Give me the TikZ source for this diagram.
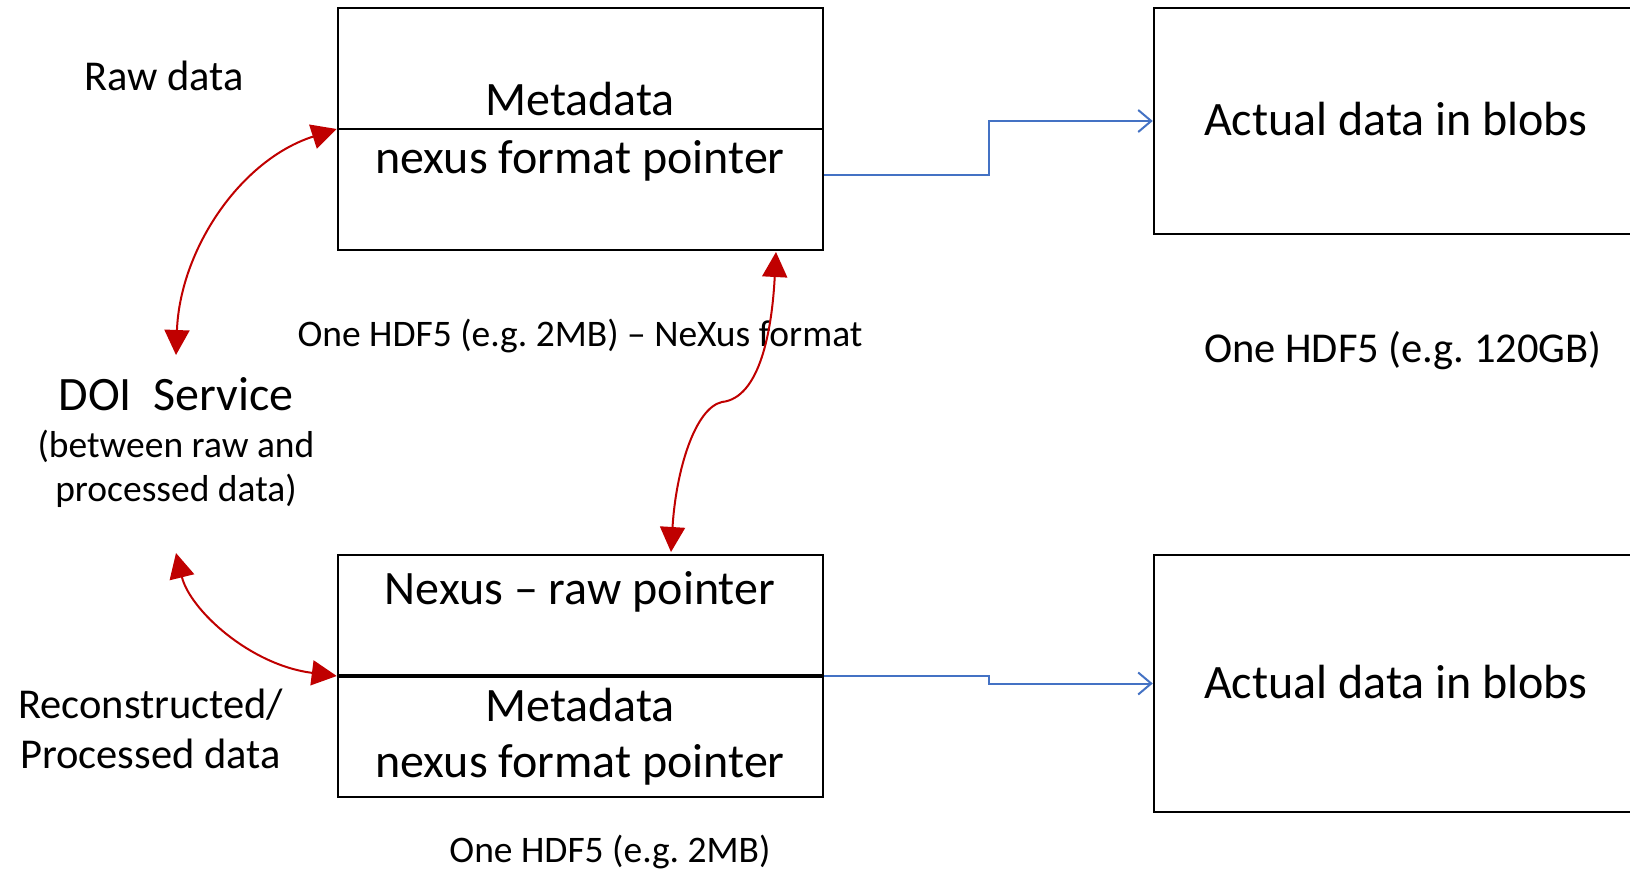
\documentclass[tikz,border=0pt]{standalone}
\usepackage{fontspec}
\setmainfont{Carlito}
\usetikzlibrary{arrows.meta,calc}
\frenchspacing

\definecolor{linkred}{RGB}{192,0,0}
\definecolor{linkblue}{RGB}{68,114,196}

\tikzset{
  filebox/.style={draw=black, line width=2.5pt, minimum width=485pt, inner sep=0pt},
  big/.style={font=\fontsize{48}{56}\selectfont, inner sep=0pt, anchor=base},
  mid/.style={font=\fontsize{42.5}{50}\selectfont, inner sep=0pt, anchor=base},
  small/.style={font=\fontsize{37.5}{44}\selectfont, inner sep=0pt, anchor=base},
  doilink/.style={draw=linkred, line width=2pt,
    {Triangle[length=25pt,width=25pt]}-{Triangle[length=25pt,width=25pt]}},
  bloblink/.style={draw=linkblue, line width=2pt,
    -{Straight Barb[length=13pt,width=22pt,line width=2pt]}},
}

\begin{document}
\begin{tikzpicture}[x=1pt,y=-1pt]
\clip (0,0) rectangle (1630,869);
\fill[white] (0,0) rectangle (1630,869);

% HDF5 files: raw file (top) and processed file (bottom)
\node[filebox, minimum height=242pt] (raw)  at (580.5,129) {};
\node[filebox, minimum height=242pt] (proc) at (580.5,676) {};
\draw[line width=2.5pt] (raw.west) -- (raw.east);
\draw[line width=3.5pt] (proc.west) -- (proc.east);

% large data files on the right
\node[filebox, minimum height=226pt] (blobA) at (1396.5,121) {};
\node[filebox, minimum height=257pt] (blobB) at (1396.5,683.5) {};

% texts inside the boxes
\node[big] (rawmeta) at (580,116) {Metadata};
\node[big] (rawptr)  at (580,174) {nexus format pointer};
\node[big] (procraw) at (580,604) {Nexus – raw pointer};
\node[big] (procmeta) at (580,721) {Metadata};
\node[big] (procptr) at (580,777) {nexus format pointer};
\node[big] (blobAtxt) at (1396,136) {Actual data in blobs};
\node[big] (blobBtxt) at (1396,698) {Actual data in blobs};

% captions
\node[small] (rawcap)  at (580,346) {One HDF5 (e.g. 2MB) – NeXus format};
\node[mid]   (blobcap) at (1403,362) {One HDF5 (e.g. 120GB)};
\node[small] (proccap) at (610,862) {One HDF5 (e.g. 2MB)};

% labels on the left
\node[mid] (rawlbl) at (164,91) {Raw data};
\node[big] (doi) at (176,410) {DOI\hspace{0.45em}Service};
\node[small] (doi1) at (176,457) {(between raw and};
\node[small] (doi2) at (176,501) {processed data)};
\node[mid, anchor=base west] (proc1) at (18,718) {Reconstructed/};
\node[mid, anchor=base west] (proc2) at (20,768) {Processed data};

% free ends of the DOI links
\coordinate (doiTop) at (176,355);
\coordinate (doiBot) at (176,553);

% DOI links
\draw[doilink] (doiTop) .. controls (180,250) and (240,160) .. (raw.west);
\draw[doilink] (doiBot) .. controls (190,610) and (250,665) .. (proc.west);

% link between the two small files
\coordinate (rawBot) at (776,252);
\coordinate (procTop) at (671,552);
\coordinate (kink) at (722,402);
\draw[doilink] (rawBot) .. controls (772,330) and (760,398) .. (kink)
  .. controls (695,408) and (676,470) .. (procTop);

% pointers to the blob files
\coordinate (mid) at ($(raw.east)!0.5!(blobA.west)$);
\coordinate (rawOut) at ([yshift=-46pt]raw.east);
\draw[bloblink] (rawOut) -- (rawOut -| mid) |- (blobA.west);
\draw[bloblink] (proc.east) -- (proc.east -| mid) |- (blobB.west);
\end{tikzpicture}
\end{document}
